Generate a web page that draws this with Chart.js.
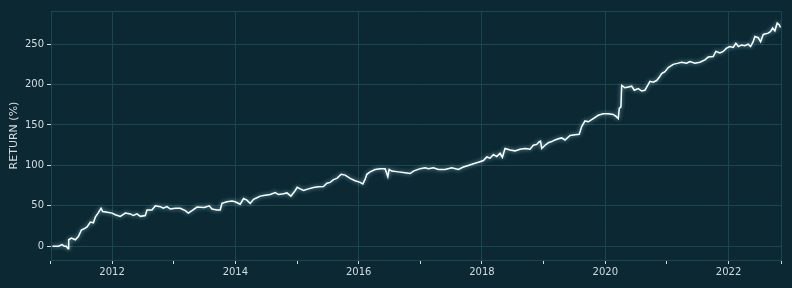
<!DOCTYPE html>
<html>
<head>
<meta charset="utf-8">
<script src="https://cdn.jsdelivr.net/npm/chart.js@4/dist/chart.umd.min.js"></script>
<style>
  html, body { margin: 0; padding: 0; background: #0b2833; }
  canvas { display: block; }
</style>
</head>
<body>
<canvas id="returnChart" width="792" height="288"></canvas>
<script>
// time axis as decimal years
var dates = [
  2011.032, 2011.130, 2011.190, 2011.227, 2011.259, 2011.287, 2011.297, 2011.340, 2011.405, 2011.454,
  2011.502, 2011.559, 2011.595, 2011.648, 2011.697, 2011.729, 2011.773, 2011.822, 2011.848, 2011.924,
  2012.000, 2012.053, 2012.134, 2012.216, 2012.297, 2012.345, 2012.405, 2012.459, 2012.540, 2012.567,
  2012.648, 2012.702, 2012.783, 2012.831, 2012.891, 2012.945, 2013.026, 2013.107, 2013.188, 2013.237,
  2013.297, 2013.378, 2013.496, 2013.577, 2013.621, 2013.702, 2013.755, 2013.783, 2013.864, 2013.945,
  2013.998, 2014.079, 2014.133, 2014.188, 2014.241, 2014.295, 2014.350, 2014.404, 2014.485, 2014.566,
  2014.647, 2014.700, 2014.781, 2014.836, 2014.901, 2014.971, 2015.003, 2015.052, 2015.105, 2015.186,
  2015.267, 2015.348, 2015.429, 2015.485, 2015.538, 2015.592, 2015.647, 2015.716, 2015.781, 2015.862,
  2015.943, 2016.024, 2016.068, 2016.105, 2016.133, 2016.186, 2016.267, 2016.348, 2016.429, 2016.473,
  2016.494, 2016.538, 2016.645, 2016.754, 2016.835, 2016.888, 2016.997, 2017.078, 2017.131, 2017.212,
  2017.293, 2017.402, 2017.510, 2017.617, 2017.698, 2017.779, 2017.861, 2017.942, 2018.023, 2018.078,
  2018.131, 2018.185, 2018.240, 2018.293, 2018.331, 2018.374, 2018.455, 2018.536, 2018.617, 2018.699,
  2018.780, 2018.833, 2018.888, 2018.925, 2018.950, 2018.969, 2019.023, 2019.076, 2019.131, 2019.185,
  2019.238, 2019.293, 2019.347, 2019.428, 2019.509, 2019.578, 2019.617, 2019.671, 2019.724, 2019.805,
  2019.886, 2019.967, 2020.048, 2020.129, 2020.184, 2020.210, 2020.227, 2020.254, 2020.266, 2020.319,
  2020.373, 2020.428, 2020.470, 2020.535, 2020.590, 2020.643, 2020.681, 2020.725, 2020.778, 2020.833,
  2020.875, 2020.914, 2020.968, 2021.021, 2021.102, 2021.183, 2021.238, 2021.319, 2021.373, 2021.454,
  2021.535, 2021.616, 2021.669, 2021.750, 2021.794, 2021.859, 2021.913, 2021.967, 2022.021, 2022.075,
  2022.118, 2022.160, 2022.210, 2022.264, 2022.317, 2022.356, 2022.399, 2022.426, 2022.480, 2022.519,
  2022.562, 2022.643, 2022.682, 2022.714, 2022.751, 2022.788, 2022.820, 2022.843
];

// cumulative return in percent
var returnPct = [
  0, 0, 2, 0, 0, -3, 8, 10, 8, 12,
  20, 22, 24, 30, 29, 36, 41, 47, 43, 42,
  41, 39, 37, 41, 40, 38, 40, 37, 38, 45,
  45, 50, 49, 47, 49, 46, 47, 47, 44, 41,
  44, 48.5, 48, 50, 46, 45, 45, 53, 55, 56,
  55, 52, 59, 57, 53, 58, 60, 62, 63, 64,
  66.5, 64, 65, 66, 62, 69, 73, 71, 69, 71,
  72.6, 73.5, 74, 78, 79, 82.5, 84, 89, 88, 84,
  81, 79, 77, 83, 89, 92, 95, 96, 96, 86,
  95, 93, 92, 91, 90, 93, 96, 97, 96, 97,
  95, 95, 97, 95, 98, 100, 102, 104, 106, 110.5,
  109, 113.5, 111, 115, 110, 121, 119, 118, 120, 121,
  120, 125, 126, 129, 130, 121, 125, 128, 129.5, 131.5,
  133, 134, 131.5, 137, 138, 138.5, 148, 155, 154, 158,
  162, 164, 164, 163, 160, 158, 170.5, 172.5, 199, 196,
  197, 198, 193, 195, 192, 193, 198, 204, 203, 205,
  209, 213.5, 216, 221, 225, 226.5, 227.7, 226.5, 228.5, 226.5,
  227.7, 230.6, 234, 234.7, 241, 239, 241, 245, 247, 246,
  251, 247, 249, 248, 250, 247, 253, 259.5, 258, 253,
  262, 263.6, 265.7, 270, 266.5, 276, 274, 270.6
];

var yearTicks = [2011, 2012, 2013, 2014, 2015, 2016, 2017, 2018, 2019, 2020, 2021, 2022];
var returnTicks = [0, 50, 100, 150, 200, 250];

var BG = '#0b2833';
var GRID = '#1a4650';
var TEXT = '#d4dcdf';
var X_MIN = 2011.01, X_MAX = 2022.85;

var points = [];
for (var i = 0; i < dates.length; i++) {
    points.push({x: dates[i], y: returnPct[i]});
}

// background + top/right frame lines
var framePlugin = {
    id: 'frame',
    beforeDraw: function(chart) {
        var ctx = chart.ctx;
        ctx.save();
        ctx.fillStyle = BG;
        ctx.fillRect(0, 0, chart.width, chart.height);
        ctx.restore();
    },
    afterDraw: function(chart) {
        var a = chart.chartArea, ctx = chart.ctx;
        ctx.save();
        ctx.strokeStyle = GRID;
        ctx.lineWidth = 1;
        ctx.beginPath();
        ctx.moveTo(a.left, a.top + 0.5);
        ctx.lineTo(a.right + 0.5, a.top + 0.5);
        ctx.lineTo(a.right + 0.5, a.bottom);
        ctx.stroke();
        ctx.restore();
    }
};

// soft glow round the line
var glowPlugin = {
    id: 'glow',
    beforeDatasetDraw: function(chart) {
        chart.ctx.save();
        chart.ctx.shadowColor = 'rgba(160, 235, 245, 0.75)';
        chart.ctx.shadowBlur = 4;
    },
    afterDatasetDraw: function(chart) {
        chart.ctx.restore();
    }
};

var ctx = document.getElementById('returnChart').getContext('2d');
var chart = new Chart(ctx, {
    type: 'line',
    data: {
        datasets: [{
            data: points,
            borderColor: '#ffffff',
            borderWidth: 1.5,
            pointRadius: 0,
            tension: 0,
            fill: false
        }]
    },
    options: {
        responsive: false,
        animation: false,
        layout: { padding: { top: 11, right: 11, left: 0, bottom: 0 } },
        plugins: {
            legend: { display: false },
            tooltip: { enabled: false }
        },
        scales: {
            x: {
                type: 'linear',
                min: X_MIN,
                max: X_MAX,
                afterBuildTicks: function(axis) {
                    var t = yearTicks.map(function(v) { return {value: v}; });
                    t.push({value: X_MAX});
                    axis.ticks = t;
                },
                afterFit: function(axis) { axis.height = 28; },
                grid: {
                    color: function(c) {
                        var v = c.tick ? c.tick.value : null;
                        return (v !== null && v % 2 === 0) ? GRID : 'rgba(0,0,0,0)';
                    },
                    tickColor: TEXT,
                    tickLength: 4,
                    lineWidth: 1
                },
                border: { display: true, color: GRID },
                ticks: {
                    color: TEXT,
                    padding: 2,
                    maxRotation: 0,
                    autoSkip: false,
                    font: { family: 'DejaVu Sans', size: 10 },
                    callback: function(v) {
                        return (Number.isInteger(v) && v % 2 === 0) ? String(v) : '';
                    }
                }
            },
            y: {
                min: -17,
                max: 291,
                afterBuildTicks: function(axis) {
                    axis.ticks = returnTicks.map(function(v) { return {value: v}; });
                },
                afterFit: function(axis) { axis.width = 51; },
                grid: { color: GRID, tickColor: TEXT, tickLength: 4 },
                border: { display: true, color: GRID },
                ticks: {
                    color: TEXT,
                    padding: 3,
                    font: { family: 'DejaVu Sans', size: 10 }
                },
                title: {
                    display: true,
                    text: 'RETURN (%)',
                    color: TEXT,
                    padding: { top: 8, bottom: 0 },
                    font: { family: 'DejaVu Sans', size: 11 }
                }
            }
        }
    },
    plugins: [framePlugin, glowPlugin]
});
</script>
</body>
</html>
